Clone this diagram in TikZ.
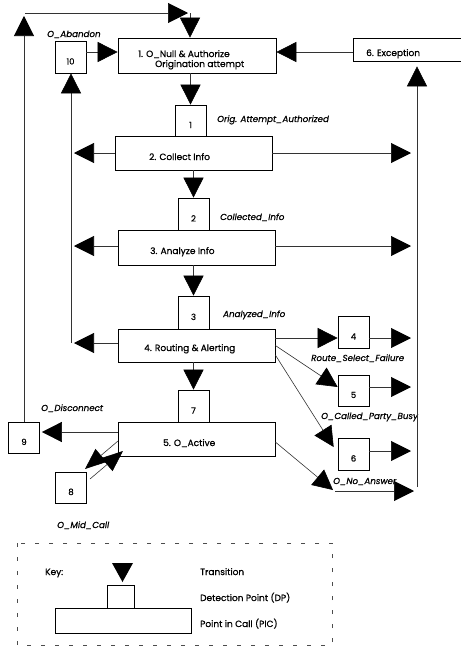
\documentclass[tikz,border=0pt]{standalone}
\usepackage{fontspec}
\setmainfont{Poppins}
\newfontfamily\medfont{Poppins}[FakeBold=0.7]
\newfontfamily\meditfont{Poppins Italic}[FakeBold=0.7]
\usetikzlibrary{arrows.meta}
\begin{document}
\begin{tikzpicture}[x=1pt,y=-1pt,
  box/.style={draw, line width=0.7pt, inner sep=0pt},
  dp/.style={box, minimum width=31pt, minimum height=32pt, text height=15pt,
    font=\medfont\fontsize{8.5}{9}\selectfont},
  conn/.style={draw=black!80, line width=0.6pt, -{Triangle[length=20pt,width=20pt,color=black]}},
  small/.style={conn, -{Triangle[length=21pt,width=17pt,color=black]}},
  txt/.style={font=\medfont\fontsize{9}{10}\selectfont, inner sep=0pt, anchor=base west},
  lbl/.style={font=\meditfont\fontsize{8.7}{9}\selectfont, inner sep=0pt, anchor=base west}]
\useasboundingbox (0,0) rectangle (461,646);

% PIC boxes
\node[box, minimum width=158pt, minimum height=35pt] (b1) at (197,55.5) {};
\node[box, minimum width=109pt, minimum height=23pt] (b6) at (407.5,49.5) {};
\node[box, minimum width=157pt, minimum height=34pt] (b2) at (193.5,153) {};
\node[box, minimum width=157pt, minimum height=35pt] (b3) at (196.5,247.5) {};
\node[box, minimum width=157pt, minimum height=33pt] (b4) at (196.5,345.5) {};
\node[box, minimum width=157pt, minimum height=34pt] (b5) at (196.5,439) {};

% PIC texts
\node[txt] (t1a) at (138,57) {1. O\_Null \& Authorize};
\node[txt] (t1b) at (155,67) {Origination attempt};
\node[txt] (t6) at (366,56) {6. Exception};
\node[txt] (t2) at (149,160) {2. Collect Info};
\node[txt] (t3) at (150,254) {3. Analyze Info};
\node[txt] (t4) at (144,351) {4. Routing \& Alerting};
\node[txt] (t5) at (163,446) {5. O\_Active};

% DP boxes
\node[dp] (d10) at (70.5,57) {10};
\node[dp, minimum height=31pt] (d1) at (190.5,120.5) {1};
\node[dp] (d2) at (193.5,214) {2};
\node[dp, minimum height=33pt] (d3) at (193.5,312.5) {3};
\node[dp] (d4) at (353.5,332) {4};
\node[dp, minimum height=31pt] (d5) at (353.5,390.5) {5};
\node[dp] (d6) at (353.5,454) {6};
\node[dp] (d7) at (193.5,406) {7};
\node[dp, minimum height=31pt] (d9) at (24,437.5) {9};
\node[dp, minimum height=31pt] (d8) at (71,487.5) {8};

% labels
\node[lbl] (l10) at (47,37) {O\_Abandon};
\node[lbl] (l1) at (217,122) {Orig. Attempt\_Authorized};
\node[lbl] (l2) at (220,220) {Collected\_Info};
\node[lbl] (l3) at (223,317) {Analyzed\_Info};
\node[lbl] (l4) at (311,361) {Route\_Select\_Failure};
\node[lbl] (l5) at (321,419) {O\_Called\_Party\_Busy};
\node[lbl] (l6) at (333,484) {O\_No\_Answer};
\node[lbl] (l9) at (41,411) {O\_Disconnect};
\node[lbl] (l8) at (57,528) {O\_Mid\_Call};

% coordinates
\coordinate (tl) at (25,13);
\coordinate (tr) at (190,13);
\coordinate (upl) at (24,16);
\coordinate (lx) at (74,0);
\coordinate (rx) at (411,0);
\coordinate (lv) at (71,343);
\coordinate (rv) at (417,487);
\coordinate (na1) at (335,491);
\coordinate (na2) at (414,491);
\coordinate (m8a) at (90,479);
\coordinate (m8b) at (123,451);
\coordinate (m5a) at (118,441);
\coordinate (m5b) at (85,469);

% connectors
\draw[conn] (d9.north) -- (upl);
\draw[conn] (tl) -- (tl -| 188,0);
\draw[conn] (tr) -- (tr |- b1.north);
\draw[conn] (d10.east |- 0,52) -- (b1.west |- 0,52);
\draw[conn] (b6.west |- 0,52) -- (b1.east |- 0,52);
\draw[conn] (rv) -- ([yshift=-5pt]rv |- b6.south);
\draw[conn] (lv) -- (lv |- d10.south);

\draw[conn] (b1.south -| d1.north) -- (d1.north);
\draw[conn] (b2.west) -- (b2.west -| lx);
\draw[conn] (b2.east) -- (b2.east -| rx);
\draw[conn] (b2.south -| d2.north) -- (d2.north);
\draw[conn] (b3.west |- 0,246) -- (lx |- 0,246);
\draw[conn] (b3.east |- 0,246) -- (rx |- 0,246);
\draw[conn] (b3.south -| d3.north) -- (d3.north);
\draw[conn] (b4.west |- 0,343) -- (lx |- 0,343);
\draw[conn] (b4.east |- 0,338) -- (d4.west |- 0,338);
\draw[conn] (d4.east |- 0,338) -- (rx |- 0,338);
\draw[conn] (b4.east) -- ([yshift=3.5pt]d5.west);
\draw[conn] (d5.east |- 0,387) -- (rx |- 0,387);
\draw[conn] ([yshift=-9.5pt]b4.east) -- ([xshift=-4pt,yshift=7pt]d6.west);
\draw[conn] (d6.east |- 0,451) -- (rx |- 0,451);
\draw[conn] (b4.south -| d7.north) -- (d7.north);
\draw[conn] (b5.west |- 0,432) -- ([xshift=2pt]d9.east |- 0,432);
\draw[small] (m8a) -- (m8b);
\draw[small] (m5a) -- (m5b);
\draw[conn] ([yshift=-3pt]b5.east) -- (333,490);
\draw[conn] (na1) -- (na2);

% key
\draw[dash pattern=on 4pt off 10pt, line width=0.6pt, black!70] (17,543) rectangle (332,645);
\node[txt] (kk) at (45,575) {Key:};
\fill (112,563) -- (133,563) -- (122.5,582) -- cycle;
\node[box, minimum width=27pt, minimum height=23pt] (kdp) at (120.5,596.5) {};
\node[box, minimum width=136pt, minimum height=25pt] (kpic) at (123,620.5) {};
\node[txt] (kt1) at (200,575) {Transition};
\node[txt] (kt2) at (200,601) {Detection Point (DP)};
\node[txt] (kt3) at (200,627) {Point in Call (PIC)};
\end{tikzpicture}
\end{document}
